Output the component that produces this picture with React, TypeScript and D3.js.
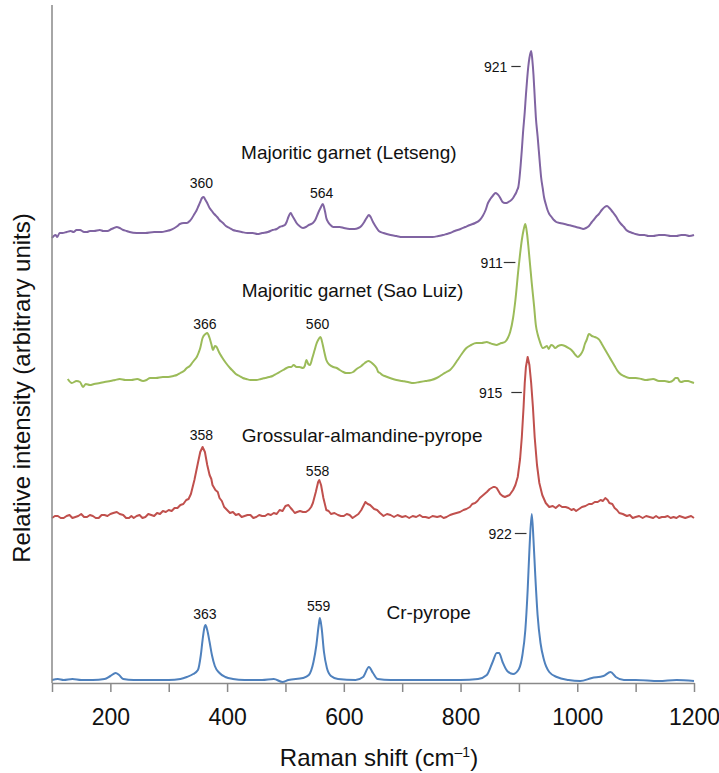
import * as d3 from 'd3';
import { useEffect, useRef } from 'react';

// wavenumber (cm-1), intensity above the spectrum's own baseline
const crPyrope: [number, number][] = [
  [100, 0], [110, 0.5], [120, 0], [135, 0.5], [150, 0], [170, 0], [190, 0.5],
  [200, 2], [209, 3.5], [215, 2.5], [222, 0.5], [240, 0], [270, 0], [300, 0],
  [320, 0.5], [331, 1.5], [342, 3], [350, 5], [355, 12.5], [358, 20], [361, 26],
  [363, 27.5], [366, 25], [370, 19], [374, 12.5], [379, 7], [387, 3.5], [397, 1.5],
  [410, 0.5], [430, 0], [460, 0], [480, 0.5], [495, -1], [505, 0], [530, 1],
  [540, 2.5], [548, 9], [553, 17.5], [557, 27.5], [559, 31], [562, 26], [566, 14],
  [571, 6], [578, 2], [590, 0.5], [620, 0], [633, 1.5], [643, 6.5], [650, 3.5],
  [658, 0.5], [680, 0], [720, 0], [760, 0], [800, 0], [830, 0.5], [845, 2.5],
  [855, 9], [862, 13.5], [866, 13.5], [872, 9], [880, 4.5], [890, 3], [900, 5.5],
  [906, 12.5], [911, 25], [915, 45], [918, 65], [922, 83], [925, 70], [928, 52.5],
  [932, 32.5], [937, 18.5], [943, 10], [952, 4], [965, 1.5], [985, 0], [1005, -0.5],
  [1025, 1], [1045, 2], [1057, 4], [1066, 1.5], [1080, 0], [1100, 0], [1140, -0.5],
  [1170, 0], [1200, -0.5],
];

const grossular: [number, number][] = [
  [100, -0.5], [105, 0.5], [110, 0.5], [115, -0.5], [120, -0.5], [125, 0.5], [130, 1],
  [135, -0.5], [140, 0], [145, 0.5], [150, 1.5], [155, 0], [160, 0], [165, 1],
  [170, 0.5], [175, -0.5], [180, -0.5], [185, 1], [190, 1], [195, 0.5], [200, 1.5],
  [205, 2], [211, 2.5], [216, 1.5], [222, 1], [227, -0.5], [232, -0.5], [236, 0.5],
  [240, -0.5], [245, 0.5], [250, 1], [255, -0.5], [260, 0], [265, 1.5], [270, 1],
  [275, 0.5], [280, 2], [285, 1.5], [290, 3], [295, 2.5], [300, 3.5], [305, 3],
  [310, 4.5], [315, 4.5], [320, 6], [325, 6.5], [330, 8.5], [334, 9], [338, 11.5],
  [344, 18.5], [350, 27], [354, 32.5], [358, 35], [362, 32.5], [366, 26], [370, 21],
  [373, 19], [375, 16], [380, 13.5], [384, 12.5], [387, 9.5], [391, 8], [395, 5],
  [400, 3.5], [405, 2], [410, 2.5], [415, 1], [420, 1.5], [425, 0], [430, 0.5],
  [435, 1], [440, 1], [445, -0.5], [450, 0], [455, 1], [460, 0.5], [465, 0.5],
  [470, 1.5], [475, 1], [480, 2], [485, 1.5], [490, 3.5], [495, 3], [500, 5.5],
  [505, 6], [509, 4.5], [512, 3.5], [516, 2], [520, 2.5], [525, 3], [530, 2.5],
  [535, 2.5], [540, 3.5], [544, 5], [547, 7], [552, 12.5], [556, 17.5], [558, 18.5],
  [561, 16], [565, 9.5], [570, 3.5], [574, 3], [578, 1.5], [584, 2], [590, 1],
  [595, 0.5], [600, 0.5], [605, 1.5], [610, 1], [615, -0.5], [620, 0.5], [625, 1.5],
  [630, 3.5], [637, 7.5], [641, 6.5], [645, 6], [652, 4], [657, 3.5], [662, 2],
  [668, 0.5], [674, 1.5], [680, 1], [686, 0], [692, 1], [700, 0], [706, 0.5],
  [712, -0.5], [718, 0.5], [724, 0], [730, 1], [735, 0], [740, 0], [746, -0.5],
  [752, 0.5], [760, 0], [766, 0.5], [771, -0.5], [776, 0], [782, 1], [787, 1.5],
  [793, 2], [799, 2.5], [805, 3.5], [810, 4], [816, 5], [820, 6.5], [825, 7],
  [829, 8], [833, 9.5], [839, 11], [845, 12.5], [850, 14], [856, 15], [859, 15],
  [862, 14.5], [868, 11.5], [872, 10.5], [876, 10], [880, 10.5], [884, 11],
  [890, 13.5], [894, 16], [898, 20], [902, 29], [905, 40], [908, 55], [910, 67],
  [912, 75], [915, 80], [918, 76], [921, 67], [924, 55], [927, 40], [931, 26],
  [935, 17], [940, 11], [946, 7], [952, 5], [958, 5.5], [963, 4.5], [969, 6],
  [974, 5], [980, 5], [985, 4.5], [990, 3.5], [994, 4], [998, 3], [1003, 4],
  [1008, 5], [1014, 5.5], [1020, 6.5], [1025, 6.5], [1030, 7.5], [1035, 7.5],
  [1040, 8.5], [1044, 8], [1048, 9.5], [1052, 8.5], [1055, 7], [1060, 6.5],
  [1064, 4.5], [1068, 3.5], [1072, 2], [1078, 1.5], [1085, 0.5], [1090, 1],
  [1095, -0.5], [1100, 0], [1106, 0.5], [1112, -0.5], [1118, 0.5], [1124, 0],
  [1130, -0.5], [1135, 0.5], [1140, -0.5], [1145, 0], [1150, 0], [1155, 0.5],
  [1160, -0.5], [1165, 0], [1170, -0.5], [1175, 0.5], [1180, 0], [1185, -0.5],
  [1190, 0], [1195, 0.5], [1200, -0.5],
];

const saoLuiz: [number, number][] = [
  [127, 0.5], [134, -1.5], [142, -0.5], [148, -1], [153, -3.5], [158, -2], [165, -2.5],
  [172, -2], [182, -1.5], [190, -1], [200, -0.5], [208, 0], [216, 0.5], [226, 0],
  [236, 0], [246, 0.5], [256, -0.5], [262, 0], [268, 1], [278, 1], [290, 1.5],
  [299, 1.5], [308, 2], [314, 2.5], [320, 3.5], [326, 4.5], [331, 6], [336, 7],
  [340, 8.5], [344, 10], [348, 11.5], [351, 13.5], [354, 16], [358, 21], [363, 23],
  [366, 23.5], [370, 21], [373, 18], [376, 15], [379, 17], [382, 16.5], [386, 14],
  [391, 11.5], [398, 8.5], [405, 6], [410, 4.5], [415, 3], [421, 2], [427, 1],
  [433, 0.5], [440, 0], [450, 0], [458, 0.5], [465, 1], [472, 1.5], [478, 2],
  [484, 3], [490, 4], [496, 5], [502, 6], [506, 6.5], [510, 6.5], [514, 7.5],
  [519, 6.5], [524, 6.5], [530, 6], [533, 7], [536, 10], [539, 8], [542, 7.5],
  [546, 11], [550, 15], [553, 18], [556, 20], [560, 21.5], [564, 17.5], [567, 13.5],
  [570, 10], [576, 7.5], [582, 6.5], [588, 6], [593, 5], [599, 4], [604, 3.5],
  [610, 3.5], [616, 4], [622, 5.5], [630, 7], [636, 8.5], [642, 9.5], [646, 9],
  [650, 8], [656, 6], [659, 4], [662, 3.5], [666, 2.5], [670, 2], [679, 1],
  [690, 0], [700, -0.5], [710, -1], [719, -1.5], [730, -1], [740, -0.5], [750, 0],
  [759, 1], [765, 2], [770, 3], [776, 4], [782, 5], [788, 7], [795, 10], [802, 13],
  [810, 16], [818, 17.5], [827, 18.5], [836, 18.5], [845, 19], [850, 18.5],
  [855, 18], [862, 17.5], [866, 18], [870, 18.5], [876, 19], [881, 21], [885, 24],
  [890, 31], [894, 40], [899, 55], [902, 63], [905, 70], [908, 75], [911, 78],
  [914, 73], [916, 67.5], [919, 58], [922, 48.5], [926, 37], [929, 27.5], [932, 23],
  [935, 20], [941, 16], [945, 16.5], [948, 17], [951, 15.5], [955, 17.5], [959, 17],
  [962, 16], [967, 17], [973, 17.5], [979, 17], [985, 16], [990, 15], [993, 14],
  [997, 12.5], [1001, 11.5], [1005, 12.5], [1010, 15], [1013, 18], [1016, 20],
  [1020, 23], [1025, 22], [1030, 21.5], [1034, 21], [1038, 20], [1042, 18],
  [1046, 16], [1051, 13.5], [1055, 11.5], [1060, 9], [1064, 7], [1068, 5],
  [1072, 3.5], [1080, 2], [1089, 1], [1100, 1], [1110, 0.5], [1118, 0],
  [1130, 0.5], [1140, -0.5], [1150, -0.5], [1158, -1], [1165, 0], [1168, 1],
  [1172, 1], [1175, -0.5], [1178, -1], [1184, -0.5], [1190, -0.5], [1195, -1],
  [1200, -1.5],
];

const letseng: [number, number][] = [
  [100, -1], [103, 0], [106, 0.5], [109, -0.5], [113, 1.5], [118, 1.5], [125, 2],
  [132, 2.5], [137, 2], [142, 3], [148, 3], [155, 2], [160, 2], [165, 2.5],
  [172, 2.5], [182, 3], [188, 2.5], [195, 2.5], [202, 3.5], [206, 4], [211, 4.5],
  [216, 4], [222, 3], [228, 2.5], [233, 2], [245, 1.5], [260, 1.5], [275, 2],
  [288, 2], [296, 2.5], [303, 3], [310, 4], [315, 5], [319, 6], [326, 6.5],
  [331, 6.5], [336, 7.5], [340, 9], [344, 11], [348, 13], [351, 15], [354, 17],
  [357, 19], [360, 19.5], [362, 18.5], [365, 17], [370, 14], [374, 12.5], [378, 11],
  [383, 9.5], [387, 8], [393, 6.5], [398, 5], [404, 4], [410, 3], [417, 2.5],
  [425, 2], [435, 1.5], [444, 1.5], [452, 1], [460, 1.5], [470, 2], [478, 3],
  [485, 3.5], [490, 4.5], [495, 5], [499, 5.5], [502, 7], [505, 9.5], [509, 11.5],
  [512, 10], [514, 9], [517, 7.5], [519, 6.5], [524, 5], [530, 4], [535, 4.5],
  [540, 5.5], [544, 6], [547, 6.5], [551, 8], [556, 11.5], [560, 14], [564, 16],
  [566, 14.5], [568, 12], [570, 9], [573, 7], [577, 5.5], [582, 4.5], [587, 4.5],
  [593, 4.5], [600, 4], [610, 3.5], [618, 3.5], [625, 4], [630, 5], [635, 7],
  [639, 9], [643, 10.5], [646, 9.5], [650, 7], [654, 5], [660, 2.5], [668, 1.5],
  [680, 0.5], [690, 0], [700, -0.5], [712, -0.5], [725, -0.5], [738, -0.5],
  [752, -0.5], [762, 0], [770, 0.5], [776, 1], [782, 1.5], [790, 2.5], [800, 3.5],
  [808, 4.5], [816, 5.5], [825, 6.5], [833, 8], [838, 10], [843, 13], [847, 16.5],
  [851, 18.5], [855, 20], [860, 21.5], [863, 21], [866, 20], [869, 18.5], [872, 17],
  [876, 16.5], [879, 16.5], [882, 17], [885, 17.5], [890, 19], [893, 20.5],
  [895, 21.5], [897, 23], [899, 24.5], [901, 29], [903, 35.5], [905, 43], [907, 51.5],
  [910, 62], [912, 70.5], [914, 78], [916, 84.5], [918, 89], [921, 92.5], [923, 88],
  [925, 80.5], [927, 70], [929, 59.5], [932, 50], [934, 43], [936, 36], [938, 29.5],
  [941, 23.5], [943, 19.5], [946, 16], [949, 13], [952, 11], [956, 9.5], [960, 8],
  [964, 7], [970, 6.5], [978, 6], [985, 5.5], [992, 5], [998, 4.5], [1005, 4],
  [1010, 3.5], [1015, 4], [1020, 5], [1025, 7], [1028, 8], [1032, 9.5], [1037, 11],
  [1042, 13], [1047, 14.5], [1051, 15], [1055, 14], [1058, 13], [1062, 11.5],
  [1067, 9.5], [1071, 7.5], [1075, 6], [1080, 4.5], [1084, 3], [1090, 2],
  [1095, 1.5], [1100, 1], [1107, 0.5], [1115, 0.5], [1122, 0], [1130, 0],
  [1140, 0.5], [1150, 0.5], [1160, 0], [1170, 0], [1178, 0.5], [1185, 0.5],
  [1192, 0], [1200, 0.5],
];

// vertical offsets of the stacked spectra
const seriesNames = ['Cr-pyrope', 'Grossular-almandine-pyrope', 'Majoritic garnet (Sao Luiz)', 'Majoritic garnet (Letseng)'];
const seriesData = [crPyrope, grossular, saoLuiz, letseng];
const seriesOffsets = [1.5, 83, 151.5, 223.5];
const seriesColors = ['#4f81bd', '#c0504d', '#9bbb59', '#8064a2'];
const seriesCurveLinear = [false, true, false, false];

// name label anchors: [wavenumber, intensity]
const nameAnchors: [number, number][] = [[673, 35.5], [425, 124], [425, 196.5], [424, 265.5]];

// small peak labels: text, wavenumber, intensity (label centre)
const peakLabels: [string, number, number][] = [
  ['360', 356, 250], ['564', 562, 245],
  ['366', 362, 179.5], ['560', 555, 179.5],
  ['358', 356, 124], ['558', 555, 106],
  ['363', 362, 34.5], ['559', 557, 38.5],
];

// main peak labels with a dash: text, dash start, dash end, intensity, gap px
const mainPeaks: [string, number, number, number, number][] = [
  ['921', 887, 903, 308, 4],
  ['911', 874, 894, 210, 1],
  ['915', 887, 905, 145, 9],
  ['922', 893, 913, 74.5, 3],
];

const xTicks = d3.range(100, 1201, 100);

const W = 719;
const H = 773;
const margin = { top: 5, right: 25, bottom: 90, left: 52 };
const FONT = '"Liberation Sans", Arial, Helvetica, sans-serif';

export default function App() {
  const axisRef = useRef<SVGGElement>(null);

  const x = d3.scaleLinear().domain([100, 1200]).range([margin.left, W - margin.right]);
  const y = d3.scaleLinear().domain([0, 339]).range([H - margin.bottom, margin.top]);

  useEffect(() => {
    const g = d3.select(axisRef.current);
    g.selectAll('*').remove();
    const axis = d3
      .axisBottom(x)
      .tickValues(xTicks)
      .tickSize(9)
      .tickSizeOuter(0)
      .tickPadding(17)
      .tickFormat((d) => ((d as number) % 200 === 0 ? String(d) : ''));
    g.call(axis);
    g.select('.domain').attr('stroke', '#898989').attr('stroke-width', 1.5);
    g.selectAll('.tick line').attr('stroke', '#898989').attr('stroke-width', 1.5);
    g.selectAll('.tick text')
      .attr('fill', '#111')
      .style('font-size', '23px')
      .style('font-family', FONT);
  }, []);

  return (
    <svg width={W} height={H} style={{ position: 'absolute', left: 0, top: 0, background: '#fff' }}>
      {seriesData.map((data, i) => {
        const line = d3
          .line<[number, number]>()
          .x((d) => x(d[0]))
          .y((d) => y(d[1] + seriesOffsets[i]))
          .curve(seriesCurveLinear[i] ? d3.curveLinear : d3.curveMonotoneX);
        return (
          <path
            key={seriesNames[i]}
            d={line(data) || ''}
            fill="none"
            stroke={seriesColors[i]}
            strokeWidth={2}
            strokeLinejoin="round"
          />
        );
      })}

      {/* y axis */}
      <line
        x1={x(100)}
        x2={x(100)}
        y1={y(339)}
        y2={y(0)}
        stroke="#898989"
        strokeWidth={1.5}
      />
      <g ref={axisRef} transform={`translate(0,${y(0)})`} />

      <g fontFamily={FONT} fill="#111">
        {seriesNames.map((name, i) => (
          <text key={name} x={x(nameAnchors[i][0])} y={y(nameAnchors[i][1])} dy="0.35em" fontSize={19}>
            {name}
          </text>
        ))}
        {peakLabels.map(([t, w, v]) => (
          <text key={t + w} x={x(w)} y={y(v)} dy="0.35em" fontSize={14} textAnchor="middle">
            {t}
          </text>
        ))}
        {mainPeaks.map(([t, w1, w2, v, gap]) => (
          <g key={t}>
            <text x={x(w1) - gap} y={y(v)} dy="0.35em" fontSize={14} textAnchor="end">
              {t}
            </text>
            <line x1={x(w1)} x2={x(w2)} y1={y(v) - 0.5} y2={y(v) - 0.5} stroke="#333" strokeWidth={1.2} />
          </g>
        ))}

        <text x={379} y={758} dy="0.35em" fontSize={24} textAnchor="middle">
          Raman shift (cm
          <tspan dy={-9} fontSize={14}>–1</tspan>
          <tspan dy={9}>)</tspan>
        </text>
        <text
          transform={`translate(22,${(y(0) + y(339)) / 2 + 44}) rotate(-90)`}
          dy="0.35em"
          fontSize={24}
          textAnchor="middle"
        >
          Relative intensity (arbitrary units)
        </text>
      </g>
    </svg>
  );
}
